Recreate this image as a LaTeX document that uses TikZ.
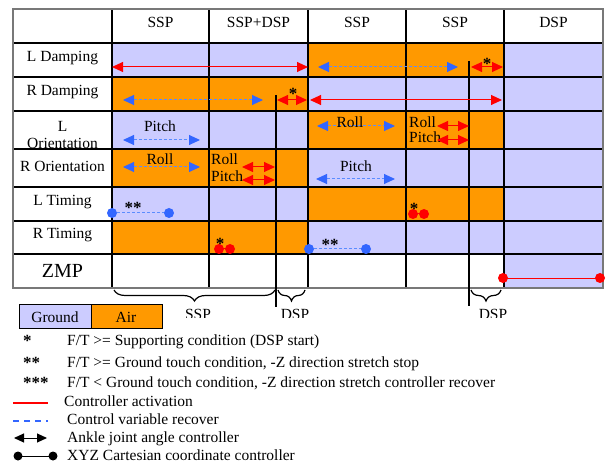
\documentclass[tikz,border=0pt]{standalone}
\usepackage{fontspec}
\setmainfont{Liberation Serif}
\usetikzlibrary{arrows.meta,decorations.pathreplacing}
\definecolor{gnd}{RGB}{204,204,255}
\definecolor{air}{RGB}{255,153,0}
\definecolor{ared}{RGB}{255,0,0}
\definecolor{ablue}{RGB}{51,102,255}
\definecolor{dblue}{RGB}{90,140,255}
\definecolor{outergray}{RGB}{120,120,120}
\begin{document}
\begin{tikzpicture}[x=1pt,y=-1pt,
  font=\fontsize{15.5}{17}\selectfont,
  lbl/.style={inner sep=0pt, anchor=base},
  lbll/.style={inner sep=0pt, anchor=base west},
  star/.style={inner sep=0pt, anchor=base, font=\fontsize{17}{19}\selectfont\bfseries},
  gridline/.style={black, line width=2pt},
  outerline/.style={outergray, line width=1.5pt},
  phaseline/.style={black, line width=1.8pt},
  actarr/.style={draw=ared, line width=1pt,
    {Triangle[length=11pt,width=10pt]}-{Triangle[length=11pt,width=10pt]}},
  recarr/.style={draw=dblue, line width=1pt, dash pattern=on 3pt off 2pt,
    {Triangle[length=11pt,width=10pt,color=ablue]}-{Triangle[length=11pt,width=10pt,color=ablue]}},
  bluedot/.style={fill=ablue},
  reddot/.style={fill=ared},
  bracestyle/.style={black, line width=1.2pt, decorate, decoration={brace, mirror, amplitude=11pt}}
]
\useasboundingbox (0,0) rectangle (608,465);

% ---- cell fills ----
% L Damping
\fill[gnd] (112,43) rectangle (308,77);
\fill[air] (308,43) rectangle (504,77);
\fill[gnd] (504,43) rectangle (603,77);
% R Damping
\fill[air] (112,77) rectangle (308,111);
\fill[gnd] (308,77) rectangle (603,111);
% L Orientation
\fill[gnd] (112,111) rectangle (308,149);
\fill[air] (308,111) rectangle (504,149);
\fill[gnd] (504,111) rectangle (603,149);
% R Orientation
\fill[air] (112,149) rectangle (308,187);
\fill[gnd] (308,149) rectangle (603,187);
% L Timing
\fill[gnd] (112,187) rectangle (308,221);
\fill[air] (308,187) rectangle (504,221);
\fill[gnd] (504,187) rectangle (603,221);
% R Timing
\fill[air] (112,221) rectangle (308,254);
\fill[gnd] (308,221) rectangle (603,254);
% ZMP
\fill[gnd] (504,254) rectangle (603,288);

% ---- grid ----
\foreach \yy in {43,77,111,149,187,221,254} \draw[gridline] (13,\yy) -- (603,\yy);
\foreach \xx in {112,209,308,406,504} \draw[gridline] (\xx,9) -- (\xx,288);
\draw[outerline] (13,9) rectangle (603,288);

% DSP phase lines
\draw[phaseline] (276,95) -- (276,307);
\draw[phaseline] (469,61) -- (469,306);

% ---- headers ----
\node[lbl] (h1) at (160.5,28) {SSP};
\node[lbl] (h2) at (258.5,28) {SSP+DSP};
\node[lbl] (h3) at (357,28) {SSP};
\node[lbl] (h4) at (455,28) {SSP};
\node[lbl] (h5) at (553.5,28) {DSP};

% ---- row labels ----
\node[lbl] (r1) at (62.5,62) {L Damping};
\node[lbl] (r2) at (62.5,96) {R Damping};
\begin{scope}
  \clip (13,111) rectangle (111,148);
  \node[lbl] (r3a) at (62.5,132) {L};
  \node[lbl] (r3b) at (62.5,149) {Orientation};
\end{scope}
\node[lbl] (r4) at (62.5,172) {R Orientation};
\node[lbl] (r5) at (62.5,206) {L Timing};
\node[lbl] (r6) at (62.5,239) {R Timing};
\node[lbl, font=\fontsize{20}{24}\selectfont] (r7) at (62.5,278) {ZMP};

% ---- L Damping ----
\draw[actarr] (112,67) -- (308,67);
\draw[recarr] (318,67) -- (458,67);
\draw[actarr] (471,67) -- (503,67);
\node[star] (s1) at (487,70) {*};

% ---- R Damping ----
\draw[recarr] (123,100) -- (263,100);
\draw[actarr] (277,100) -- (307,100);
\node[star] (s2) at (293,100) {*};
\draw[actarr] (310,100) -- (502,100);

% ---- L Orientation ----
\draw[recarr] (123,140) -- (200,140);
\node[lbl] (lo1) at (160,132) {Pitch};
\draw[recarr] (317,126) -- (395,126);
\node[lbl] (lo2) at (350,128) {Roll};
\node[lbll] (lo3) at (409,128) {Roll};
\node[lbll] (lo4) at (409,143) {Pitch};
\draw[actarr] (437,126) -- (469,126);
\draw[actarr] (437,140) -- (469,140);

% ---- R Orientation ----
\draw[recarr] (123,167) -- (200,167);
\node[lbl] (ro1) at (160,165) {Roll};
\node[lbll] (ro2) at (211,165) {Roll};
\node[lbll] (ro3) at (211,182) {Pitch};
\draw[actarr] (242,167) -- (275,167);
\draw[actarr] (242,180) -- (275,180);
\draw[recarr] (316,179) -- (395,179);
\node[lbl] (ro4) at (356,172) {Pitch};

% ---- L Timing ----
\draw[dblue, line width=1pt, dash pattern=on 3pt off 2pt] (112,213) -- (169,213);
\fill[bluedot] (112,213) circle (5);
\fill[bluedot] (169,213) circle (5);
\node[star] (s3) at (133,214) {**};
\draw[ared, line width=1pt] (413,214) -- (424,214);
\fill[reddot] (413,214) circle (5);
\fill[reddot] (424,214) circle (5);
\node[star] (s4) at (414,215) {*};

% ---- R Timing ----
\draw[ared, line width=1pt] (219,249) -- (230,249);
\fill[reddot] (219,249) circle (5);
\fill[reddot] (230,249) circle (5);
\node[star] (s5) at (220,250) {*};
\draw[dblue, line width=1pt, dash pattern=on 3pt off 2pt] (309,249) -- (366,249);
\fill[bluedot] (309,249) circle (5);
\fill[bluedot] (366,249) circle (5);
\node[star] (s6) at (330,251) {**};

% ---- ZMP ----
\draw[ared, line width=0.8pt] (503,278) -- (600,278);
\fill[reddot] (503,278) circle (5);
\fill[reddot] (600,278) circle (5);

% ---- braces ----
\draw[bracestyle] (114,290) -- (275,290);
\draw[bracestyle] (278,290) -- (305,290);
\draw[bracestyle] (471,290) -- (501,290);
\begin{scope}
  \clip (100,300) rectangle (560,317);
  \node[lbl] (b1) at (198,319) {SSP};
  \node[lbl] (b2) at (295,319) {DSP};
  \node[lbl] (b3) at (493,319) {DSP};
\end{scope}

% ---- legend ----
\draw[black, line width=0.8pt, fill=gnd] (19,304) rectangle (91,328);
\draw[black, line width=0.8pt, fill=air] (91,304) rectangle (162,328);
\node[lbl] (lg1) at (55,323) {Ground};
\node[lbl] (lg2) at (126,323) {Air};

\node[star, anchor=base west] (k1) at (23,346) {*};
\node[lbll] (t1) at (67,345) {F/T >= Supporting condition (DSP start)};
\node[star, anchor=base west] (k2) at (23,368) {**};
\node[lbll] (t2) at (67,367) {F/T >= Ground touch condition, -Z direction stretch stop};
\node[star, anchor=base west] (k3) at (23,388) {***};
\node[lbll] (t3) at (67,387) {F/T < Ground touch condition, -Z direction stretch controller recover};

\draw[ared, line width=1.2pt] (13,403) -- (48,403);
\node[lbll] (t4) at (64,406) {Controller activation};
\draw[ablue, line width=1.2pt, dash pattern=on 6pt off 5pt] (13,421) -- (48,421);
\node[lbll] (t5) at (67,424) {Control variable recover};
\draw[black, line width=1pt, {Triangle[length=10pt,width=9pt]}-{Triangle[length=10pt,width=9pt]}] (14,438) -- (47,438);
\node[lbll] (t6) at (67,442) {Ankle joint angle controller};
\draw[black, line width=1pt] (18,456) -- (53,456);
\fill[black] (18,456) circle (4.5);
\fill[black] (53,456) circle (4.5);
\node[lbll] (t7) at (67,460) {XYZ Cartesian coordinate controller};
\end{tikzpicture}
\end{document}
